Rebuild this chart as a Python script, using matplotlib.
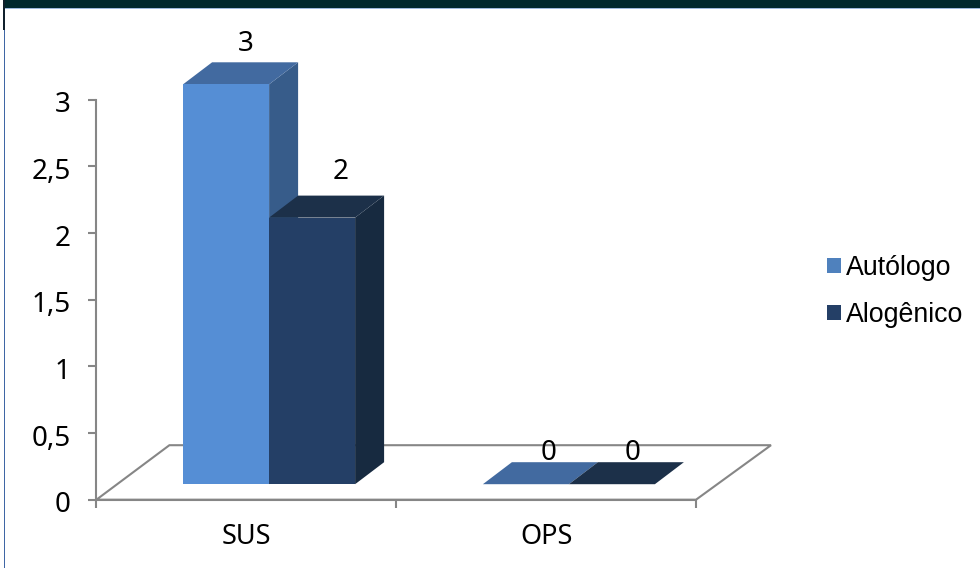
import matplotlib
matplotlib.use("Agg")
import matplotlib.pyplot as plt
from matplotlib.patches import Polygon, Rectangle, Patch
from matplotlib.transforms import ScaledTranslation

categories = ["SUS", "OPS"]
series_names = ["Autólogo", "Alogênico"]
autologo = [3, 0]
alogenico = [2, 0]
y_ticks = [0, 0.5, 1, 1.5, 2, 2.5, 3]
y_labels = ["0", "0,5", "1", "1,5", "2", "2,5", "3"]

W, H = 980, 568
front_colors = ["#558ed5", "#243f66"]
top_colors = ["#426aa0", "#1c3049"]
side_colors = ["#375c8a", "#172a40"]
GRAY = "#868686"
TICK_FONT = ["Noto Sans", "DejaVu Sans"]
LEG_FONT = ["Liberation Sans", "DejaVu Sans"]

fig = plt.figure(figsize=(W / 100, H / 100), dpi=100, facecolor="white")
L, R, T, B = 96.4, 696.0, 99.8, 499.7
ax = fig.add_axes([L / W, 1 - B / H, (R - L) / W, (B - T) / H])
ax.set_xlim(0, 2)
ax.set_ylim(0, 3)
ax.patch.set_visible(False)

# pixel sizes converted to data units
px = 2 / (R - L)
py = 3 / (B - T)
dx, dy = 29 * px, 22 * py
bar_w = 86 * px
base = 15.5 * py
shift = 22.8 * px

# floor of the 3D box
fx, fx2, fy = 73 * px, 75 * px, 54.5 * py
floor = Polygon([(0, 0), (fx, fy), (2 + fx2, fy), (2, 0)], closed=True,
                facecolor="none", edgecolor=GRAY, lw=1.5, clip_on=False, zorder=1)
ax.add_patch(floor)

# label offsets in pixels relative to the top centre of each front face
label_off = [[(20, 40), (29, 46)], [(23, 31), (21, 31)]]

for s, vals in enumerate([autologo, alogenico]):
    for i, v in enumerate(vals):
        x0 = i + 0.5 + shift + (s - 1) * bar_w
        x1 = x0 + bar_w
        y0, y1 = base, base + v
        if v > 0:
            ax.bar(x0, v, width=bar_w, bottom=base, align="edge", color=front_colors[s],
                   edgecolor="none", clip_on=False, zorder=3 + s)
            ax.add_patch(Polygon([(x1, y0), (x1 + dx, y0 + dy), (x1 + dx, y1 + dy), (x1, y1)],
                                 closed=True, fc=side_colors[s], ec="none", clip_on=False, zorder=2 + s))
        ax.add_patch(Polygon([(x0, y1), (x0 + dx, y1 + dy), (x1 + dx, y1 + dy), (x1, y1)],
                             closed=True, fc=top_colors[s], ec="none", clip_on=False, zorder=2 + s))
        ox, oy = label_off[i][s]
        ax.annotate(str(v), xy=(x0 + bar_w / 2, y1), xytext=(ox * 0.72, oy * 0.72),
                    textcoords="offset points", ha="center", va="center",
                    fontsize=20, family=TICK_FONT, color="black", zorder=8,
                    annotation_clip=False)

# axes
for sp in ["top", "right"]:
    ax.spines[sp].set_visible(False)
for sp in ["left", "bottom"]:
    ax.spines[sp].set_color(GRAY)
    ax.spines[sp].set_linewidth(1.5)
    ax.spines[sp].set_zorder(2)

ax.set_yticks(y_ticks)
ax.set_yticklabels(y_labels, family=TICK_FONT, fontsize=20)
ax.set_xticks([0, 1, 2])
ax.set_xticklabels([])
ax.set_xticks([0.5, 1.5], minor=True)
ax.set_xticklabels(categories, minor=True, family=TICK_FONT, fontsize=19.5)
ax.tick_params(axis="y", length=6, width=1.5, color=GRAY, pad=12.5)
ax.tick_params(axis="x", which="major", length=6, width=1.5, color=GRAY)
ax.tick_params(axis="x", which="minor", length=0, pad=17)
nudge = ScaledTranslation(0, -2 / 100, fig.dpi_scale_trans)
for lab in ax.get_yticklabels():
    lab.set_transform(lab.get_transform() + nudge)

# legend
handles = [Patch(facecolor=c, edgecolor="none") for c in ["#4f81bd", front_colors[1]]]
fig.legend(handles, series_names, loc="center left", bbox_to_anchor=(819 / W, 1 - 291.5 / H),
           frameon=False, prop={"family": LEG_FONT, "size": 19.3},
           handlelength=0.52, handleheight=0.52, handletextpad=0.2,
           labelspacing=0.78, borderpad=0.3, borderaxespad=0)

# slide frame
fig.patches.append(Rectangle((5 / W, 1 - 7.5 / H), 1 - 5 / W, 7.5 / H, transform=fig.transFigure,
                             fc="#00282d", ec="none"))
fig.patches.append(Rectangle((5 / W, 1 - 9 / H), 1 - 5 / W, 1.5 / H, transform=fig.transFigure,
                             fc="#9db8dc", ec="none"))
fig.patches.append(Rectangle((3.5 / W, 0), 1.5 / W, 1, transform=fig.transFigure,
                             fc="#3f66a5", ec="none"))
fig.patches.append(Rectangle((3 / W, 1 - 30 / H), 2 / W, 30 / H, transform=fig.transFigure,
                             fc="#10202c", ec="none"))

fig.savefig("out.png", dpi=100, facecolor="white")
